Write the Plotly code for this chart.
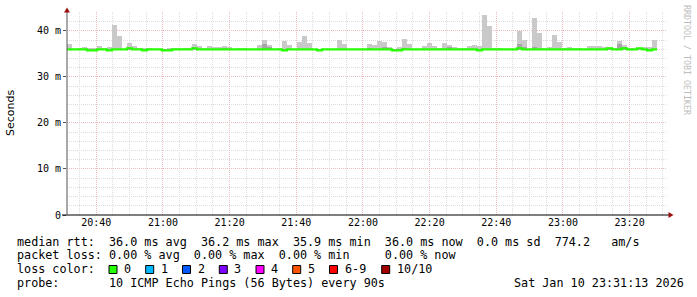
import plotly.graph_objects as go
from datetime import datetime, timedelta

# ---------------- data ----------------
start_time = datetime(2026, 1, 10, 20, 31, 13)
end_time = start_time + timedelta(hours=3)
step_seconds = 90

# top of the smoke (max ping) per 90 s step, ms
smoke_max = [
    37.2, 36.1, 36.3, 36.45, 36.3, 36.2, 36.8, 36.36, 36.58, 41.35,
    38.95, 36.1, 37.45, 36.8, 36.36, 36.36, 36.36, 36.0, 36.0, 36.0,
    36.36, 36.36, 36.36, 36.36, 36.36, 37.2, 36.8, 36.36, 36.8, 36.58,
    36.58, 36.8, 36.58, 36.0, 36.36, 36.36, 36.0, 36.0, 37.0, 38.1,
    37.0, 36.0, 36.36, 37.9, 37.0, 36.0, 37.67, 38.98, 37.45, 36.0,
    36.0, 36.0, 36.0, 36.0, 38.1, 37.2, 36.0, 36.0, 36.0, 36.0,
    37.2, 37.0, 37.9, 37.67, 36.58, 36.0, 36.58, 38.32, 37.2, 36.0,
    36.0, 36.8, 37.45, 36.8, 36.36, 37.45, 37.0, 36.58, 36.36, 36.36,
    36.8, 37.0, 36.8, 43.55, 41.15, 36.36, 36.36, 36.0, 36.0, 36.0,
    40.07, 38.1, 36.0, 42.9, 39.63, 36.36, 36.58, 39.19, 37.67, 36.36,
    36.58, 36.36, 36.36, 36.0, 36.8, 36.8, 36.8, 36.58, 36.58, 36.36,
    37.89, 37.0, 36.36, 36.36, 36.36, 36.58, 36.58, 38.1,
]

# darker inner smoke band top, ms (36.0 = none)
smoke_inner = [
    36.0, 36.0, 36.0, 36.0, 36.0, 36.0, 36.0, 36.0, 36.0, 36.0,
    36.0, 36.0, 36.6, 36.0, 36.0, 36.0, 36.0, 36.0, 36.0, 36.0,
    36.0, 36.0, 36.0, 36.0, 36.0, 36.4, 36.0, 36.0, 36.0, 36.0,
    36.0, 36.36, 36.0, 36.0, 36.0, 36.0, 36.0, 36.0, 36.0, 37.2,
    36.58, 36.0, 36.0, 36.0, 36.0, 36.0, 36.0, 36.0, 36.0, 36.0,
    36.0, 36.0, 36.0, 36.0, 36.0, 36.0, 36.0, 36.0, 36.0, 36.0,
    36.36, 36.0, 36.0, 36.58, 36.36, 36.0, 36.0, 36.36, 36.0, 36.0,
    36.0, 36.0, 36.0, 36.0, 36.0, 36.0, 36.58, 36.0, 36.0, 36.0,
    36.0, 36.0, 36.0, 36.0, 36.0, 36.0, 36.0, 36.0, 36.0, 36.0,
    37.2, 36.58, 36.0, 36.58, 36.0, 36.0, 36.0, 36.0, 36.0, 36.0,
    36.0, 36.0, 36.0, 36.0, 36.0, 36.0, 36.0, 36.0, 36.0, 36.0,
    37.2, 36.58, 36.0, 36.0, 36.0, 36.0, 36.0, 36.0,
]

# median rtt per step, ms
median_rtt = [
    36.0, 36.0, 36.0, 36.0, 35.78, 35.78, 36.0, 36.0, 35.78, 36.0,
    36.0, 36.0, 36.22, 36.0, 36.0, 35.78, 36.0, 36.0, 36.0, 35.78,
    35.78, 36.0, 36.0, 36.0, 36.0, 36.22, 36.0, 36.0, 36.0, 36.0,
    36.0, 36.0, 36.0, 36.0, 36.0, 36.0, 36.0, 36.0, 36.0, 36.0,
    36.0, 36.0, 36.0, 35.78, 36.0, 36.0, 36.0, 36.0, 36.0, 36.0,
    35.78, 36.0, 36.0, 36.0, 36.0, 36.0, 36.0, 36.0, 36.0, 36.0,
    36.0, 36.0, 36.0, 36.0, 36.0, 35.78, 35.78, 36.0, 36.0, 36.0,
    36.0, 36.0, 36.0, 36.0, 36.0, 36.0, 36.0, 36.0, 36.0, 36.0,
    36.0, 36.0, 35.78, 36.0, 36.0, 36.0, 36.0, 36.0, 36.0, 36.0,
    36.22, 36.0, 36.0, 36.0, 36.0, 36.0, 36.0, 36.0, 36.0, 36.0,
    36.0, 36.0, 36.0, 36.0, 36.0, 36.0, 36.0, 36.0, 36.22, 36.0,
    36.0, 36.22, 36.0, 36.0, 36.22, 36.0, 35.78, 36.0,
]
smoke_floor = 35.9

y_tick_values = [0, 10, 20, 30, 40]
y_tick_labels = ["0", "10 m", "20 m", "30 m", "40 m"]

loss_labels = ["0", "1", "2", "3", "4", "5", "6-9", "10/10"]
loss_colors = ["#26ff00", "#00b8ff", "#0059ff", "#7e00ff", "#ff00ff", "#ff5500", "#ff0000", "#a10000"]

line_rtt = "median rtt:  36.0 ms avg  36.2 ms max  35.9 ms min  36.0 ms now  0.0 ms sd  774.2   am/s"
line_loss = "packet loss: 0.00 % avg  0.00 % max  0.00 % min     0.00 % now"
line_color = "loss color:"
line_probe = "probe:       10 ICMP Echo Pings (56 Bytes) every 90s"
date_stamp = "Sat Jan 10 23:31:13 2026"
watermark = "RRDTOOL / TOBI OETIKER"

# ---------------- geometry helpers ----------------
W, H = 697, 297
L, R, T, B = 67, 30, 12, 82
PW, PH = W - L - R, H - T - B


def px(x):
    return (x - L) / PW


def py(y):
    return (H - B - y) / PH


def nb(s):
    return s.replace(" ", "\u00a0")


# ---------------- figure ----------------
times = [start_time + timedelta(seconds=step_seconds * i) for i in range(len(smoke_max))]
centers = [t + timedelta(seconds=step_seconds / 2) for t in times]
bar_w = step_seconds * 1000

fig = go.Figure()
fig.add_trace(go.Bar(
    x=centers, base=[smoke_floor] * len(smoke_max),
    y=[max(v - smoke_floor, 0) for v in smoke_max],
    width=[bar_w] * len(smoke_max),
    marker=dict(color="#c9c9c9", line=dict(width=0)), hoverinfo="skip",
))
fig.add_trace(go.Bar(
    x=centers, base=[smoke_floor] * len(smoke_inner),
    y=[max(v - smoke_floor, 0) for v in smoke_inner],
    width=[bar_w] * len(smoke_inner),
    marker=dict(color="#a6a6a6", line=dict(width=0)), hoverinfo="skip",
))
fig.add_trace(go.Scatter(
    x=times + [times[-1] + timedelta(seconds=step_seconds)],
    y=median_rtt + [median_rtt[-1]],
    mode="lines", line=dict(color="#26ff00", width=2.2, shape="hv"),
    hoverinfo="skip",
))

mono = "DejaVu Sans Mono"
major_grid = "#ebbcbc"
minor_grid = "#dcdcdc"
fig.update_layout(
    width=W, height=H, margin=dict(l=L, r=R, t=T, b=B, pad=0),
    paper_bgcolor="white", plot_bgcolor="white",
    showlegend=False, barmode="overlay", bargap=0,
    font=dict(family=mono, size=10, color="#000"),
)
fig.update_xaxes(
    type="date", range=[start_time, end_time],
    tickmode="linear", tick0="2026-01-10 20:40:00", dtick=20 * 60 * 1000,
    tickformat="%H:%M", ticks="", showline=False, zeroline=False,
    showgrid=True, gridcolor=major_grid, griddash="1px,1px", gridwidth=1,
    minor=dict(tick0="2026-01-10 20:40:00", dtick=5 * 60 * 1000, showgrid=True,
               gridcolor=minor_grid, griddash="1px,1px", gridwidth=1),
    tickfont=dict(family=mono, size=10, color="#000"),
    fixedrange=True,
)
fig.update_yaxes(
    range=[0, 44.1], tickmode="array", tickvals=y_tick_values, ticktext=y_tick_labels,
    ticks="outside", ticklen=3, tickcolor="#555", showline=False, zeroline=False,
    showgrid=True, gridcolor=major_grid, griddash="1px,1px", gridwidth=1,
    minor=dict(dtick=2, showgrid=True, gridcolor=minor_grid, griddash="1px,1px", gridwidth=1),
    tickfont=dict(family=mono, size=10, color="#000"),
    fixedrange=True,
)

shapes = []
# axes lines
shapes.append(dict(type="line", xref="paper", yref="paper", x0=px(62), x1=px(669), y0=py(215), y1=py(215),
                   line=dict(color="#000", width=1)))
shapes.append(dict(type="line", xref="paper", yref="paper", x0=px(67), x1=px(67), y0=py(215), y1=py(11),
                   line=dict(color="#555", width=1)))
# arrows
shapes.append(dict(type="path", xref="paper", yref="paper",
                   path=f"M {px(67)},{py(7.5)} L {px(64)},{py(12.5)} L {px(70)},{py(12.5)} Z",
                   fillcolor="#9b1111", line=dict(width=0)))
shapes.append(dict(type="path", xref="paper", yref="paper",
                   path=f"M {px(673.5)},{py(215)} L {px(668.5)},{py(212)} L {px(668.5)},{py(218)} Z",
                   fillcolor="#9b1111", line=dict(width=0)))

annotations = []
legend_font = dict(family=mono, size=11.75, color="#000")
for txt, yc in [(line_rtt, 241.5), (line_loss, 255), (line_color, 269), (line_probe, 283)]:
    annotations.append(dict(text=nb(txt), xref="paper", yref="paper", x=px(15), y=py(yc),
                            xanchor="left", yanchor="middle", showarrow=False, font=legend_font))
annotations.append(dict(text=nb(date_stamp), xref="paper", yref="paper", x=px(512), y=py(283),
                        xanchor="left", yanchor="middle", showarrow=False, font=legend_font))

box_x = [109, 145.7, 182.5, 219.3, 256, 292.7, 329.5, 381.7]
for bx, lab, col in zip(box_x, loss_labels, loss_colors):
    shapes.append(dict(type="rect", xref="paper", yref="paper", x0=px(bx), x1=px(bx + 8),
                       y0=py(273.5), y1=py(265.5), fillcolor=col, line=dict(color="#000", width=1)))
    annotations.append(dict(text=nb(lab), xref="paper", yref="paper", x=px(bx + 13), y=py(269),
                            xanchor="left", yanchor="middle", showarrow=False, font=legend_font))

# y-axis title
annotations.append(dict(text="Seconds", xref="paper", yref="paper", x=px(11), y=py(113),
                        xanchor="center", yanchor="middle", textangle=-90, showarrow=False,
                        font=dict(family="DejaVu Sans", size=11, color="#000")))
# watermark
annotations.append(dict(text=nb(watermark), xref="paper", yref="paper", x=px(687), y=py(60),
                        xanchor="center", yanchor="middle", textangle=90, showarrow=False,
                        font=dict(family=mono, size=8.3, color="#bdbdbd")))

fig.update_layout(shapes=shapes, annotations=annotations)
fig.write_html("out.html", config={"displayModeBar": False, "staticPlot": True})
